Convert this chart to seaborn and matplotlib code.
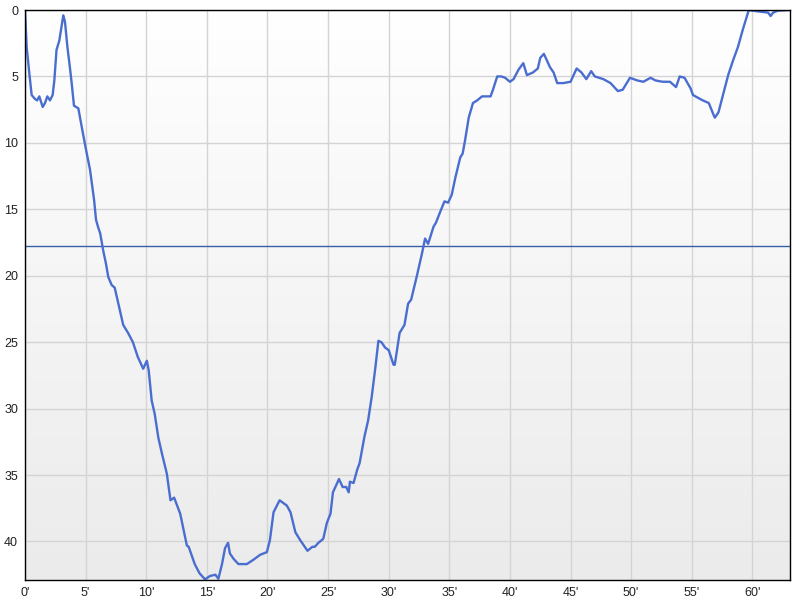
import numpy as np
import pandas as pd
import seaborn as sns
import matplotlib.pyplot as plt
import matplotlib.ticker as ticker
from matplotlib.colors import LinearSegmentedColormap

# dive profile: time (minutes) and depth (m)
minutes = [0.0, 0.14, 0.36, 0.55, 0.83, 1.0, 1.18, 1.46, 1.65, 1.84, 2.06, 2.28, 2.42,
           2.6, 2.83, 2.97, 3.16, 3.3, 3.5, 3.7, 3.85, 4.04, 4.4, 4.68, 5.03, 5.36,
           5.7, 5.86, 6.05, 6.2, 6.45, 6.68, 6.87, 7.15, 7.4, 7.7, 8.1, 8.5, 8.9,
           9.3, 9.75, 10.05, 10.2, 10.45, 10.7, 11.0, 11.3, 11.7, 12.0, 12.3, 12.8,
           13.35, 13.5, 14.0, 14.4, 14.85, 15.25, 15.7, 15.95, 16.25, 16.5, 16.75,
           16.9, 17.2, 17.6, 18.3, 18.8, 19.4, 19.95, 20.2, 20.5, 21.0, 21.6, 21.9,
           22.3, 22.7, 23.3, 23.7, 23.9, 24.2, 24.6, 24.9, 25.2, 25.4, 25.9, 26.2,
           26.5, 26.7, 26.8, 27.1, 27.4, 27.6, 28.0, 28.3, 28.6, 28.9, 29.15, 29.4,
           29.7, 30.0, 30.4, 30.5, 30.9, 31.3, 31.6, 31.85, 32.3, 32.75, 33.0, 33.25,
           33.7, 33.9, 34.2, 34.6, 34.9, 35.2, 35.5, 35.9, 36.1, 36.3, 36.6, 36.95,
           37.3, 37.7, 37.95, 38.4, 38.6, 38.95, 39.3, 39.6, 40.0, 40.3, 40.7, 41.1,
           41.4, 41.9, 42.3, 42.5, 42.8, 43.3, 43.6, 43.9, 44.4, 45.0, 45.5, 45.9,
           46.3, 46.7, 47.0, 47.7, 48.3, 48.9, 49.3, 49.9, 50.5, 51.0, 51.6, 52.0,
           52.6, 53.2, 53.7, 54.0, 54.4, 54.9, 55.1, 55.5, 55.9, 56.4, 56.8, 56.9,
           57.2, 57.6, 58.0, 58.4, 58.8, 59.2, 59.7, 60.4, 60.9, 61.3, 61.5, 61.7,
           62.1, 63.1]
depth = [0.0, 2.8, 4.8, 6.4, 6.7, 6.8, 6.5, 7.3, 7.0, 6.5, 6.8, 6.4, 5.3,
         3.0, 2.3, 1.5, 0.4, 0.9, 2.8, 4.3, 5.5, 7.2, 7.4, 8.8, 10.5, 12.0,
         14.3, 15.8, 16.4, 16.8, 18.1, 19.1, 20.1, 20.7, 20.9, 22.1, 23.7, 24.3, 25.0,
         26.1, 27.0, 26.4, 27.1, 29.4, 30.4, 32.2, 33.4, 34.9, 36.9, 36.7, 37.9,
         40.3, 40.4, 41.7, 42.4, 42.85, 42.6, 42.5, 42.8, 41.7, 40.5, 40.1,
         40.9, 41.3, 41.7, 41.7, 41.4, 41.0, 40.8, 39.9, 37.8, 36.9, 37.3, 37.8,
         39.3, 39.9, 40.7, 40.4, 40.4, 40.1, 39.8, 38.6, 37.9, 36.3, 35.3, 35.9,
         35.9, 36.3, 35.5, 35.6, 34.6, 34.1, 32.1, 30.9, 29.1, 26.9, 24.9, 25.0,
         25.4, 25.6, 26.7, 26.7, 24.3, 23.7, 22.1, 21.8, 20.1, 18.3, 17.2, 17.6,
         16.3, 16.0, 15.3, 14.4, 14.5, 13.9, 12.6, 11.1, 10.8, 9.8, 8.1, 7.0,
         6.8, 6.5, 6.5, 6.5, 6.0, 5.0, 5.0, 5.1, 5.4, 5.2, 4.5, 4.0,
         4.9, 4.7, 4.4, 3.6, 3.3, 4.3, 4.7, 5.5, 5.5, 5.4, 4.4, 4.7,
         5.2, 4.6, 5.0, 5.2, 5.5, 6.1, 6.0, 5.1, 5.3, 5.4, 5.1, 5.3,
         5.4, 5.4, 5.8, 5.0, 5.1, 5.9, 6.4, 6.6, 6.8, 7.0, 7.9, 8.1,
         7.7, 6.3, 4.9, 3.8, 2.8, 1.5, 0.0, 0.1, 0.15, 0.2, 0.45, 0.2,
         0.05, 0.0]
ref_depth = 17.77
x_ticks = [0, 5, 10, 15, 20, 25, 30, 35, 40, 45, 50, 55, 60]
y_ticks = [0, 5, 10, 15, 20, 25, 30, 35, 40]

df = pd.DataFrame({"minutes": minutes, "depth": depth})

sns.set_theme(style="white")
plt.rcParams['font.family'] = ['Liberation Sans', 'DejaVu Sans']

fig = plt.figure(figsize=(8, 6), dpi=100)
ax = fig.add_axes([0.03125, 0.0333, 0.95625, 0.95])

# vertical background gradient, white to light grey
grad = LinearSegmentedColormap.from_list("bg", ["#ffffff", "#ebebeb"])
ax.imshow(np.linspace(0, 1, 256).reshape(-1, 1), cmap=grad, aspect="auto",
          extent=[0, 1, 0, 1], transform=ax.transAxes, zorder=0)

sns.lineplot(data=df, x="minutes", y="depth", ax=ax, color="#4a6dd0",
             linewidth=1.7, estimator=None, sort=False, zorder=3)
ax.axhline(ref_depth, color="#3b5ea8", linewidth=1, zorder=2)

ax.set_xlim(0, 63.1)
ax.set_ylim(42.9, 0)
ax.set_xticks(x_ticks)
ax.set_yticks(y_ticks)
ax.xaxis.set_major_formatter(ticker.FuncFormatter(lambda v, p: f"{v:.0f}'"))
ax.grid(True, color="#d4d4d4", linewidth=1)
ax.set_axisbelow(True)
for g in ax.get_xgridlines() + ax.get_ygridlines():
    g.set_zorder(1)
ax.tick_params(length=0, pad=5, labelsize=9, colors="#222222")
ax.set_xlabel("")
ax.set_ylabel("")
for s in ax.spines.values():
    s.set_color("black")
    s.set_linewidth(1)
    s.set_zorder(4)

plt.savefig("out.png", dpi=100)
